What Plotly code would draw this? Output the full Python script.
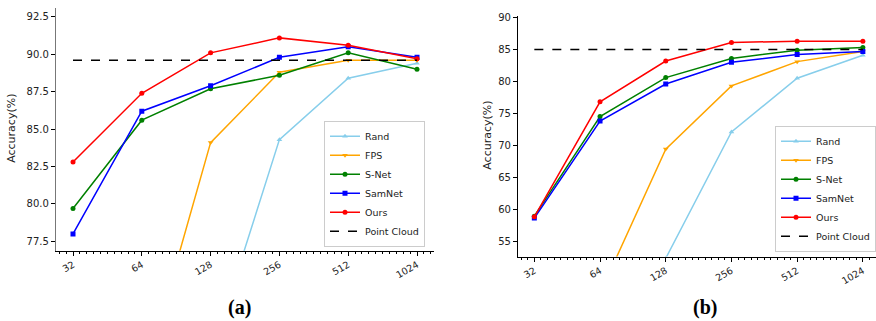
import math
import plotly.graph_objects as go

# Number of sampled points
SIZES = [32, 64, 128, 256, 512, 1024]
SIZE_LABELS = ["32", "64", "128", "256", "512", "1024"]

# (a) classification accuracy (%)
A_RAND = [None, None, 69.8, 84.3, 88.4, 89.4]
A_FPS = [None, 67.9, 84.1, 88.8, 89.6, 89.6]
A_SNET = [79.7, 85.6, 87.7, 88.6, 90.1, 89.0]
A_SAMNET = [78.0, 86.2, 87.9, 89.8, 90.5, 89.8]
A_OURS = [82.8, 87.4, 90.1, 91.1, 90.6, 89.7]
A_POINT_CLOUD = 89.6

# (b) classification accuracy (%)
B_RAND = [None, None, 52.3, 72.1, 80.5, 84.1]
B_FPS = [None, 46.8, 69.4, 79.3, 83.1, 84.7]
B_SNET = [58.9, 74.5, 80.6, 83.6, 84.9, 85.3]
B_SAMNET = [58.6, 73.8, 79.6, 83.0, 84.2, 84.7]
B_OURS = [58.8, 76.8, 83.2, 86.1, 86.3, 86.3]
B_POINT_CLOUD = 85.0

A_YTICKS = [77.5, 80.0, 82.5, 85.0, 87.5, 90.0, 92.5]
B_YTICKS = [55, 60, 65, 70, 75, 80, 85, 90]

W, H = 876, 321

SERIES_STYLE = [
    ("Rand", "#87CEEB", "triangle-up", 5),
    ("FPS", "#FFA500", "triangle-down", 5),
    ("S-Net", "#008000", "circle", 5),
    ("SamNet", "#0000FF", "square", 5),
    ("Ours", "#FF0000", "circle", 5),
]


def lg2(v):
    return math.log10(2 ** v)


def px_x(p):
    return p / W


def px_y(p):
    return 1 - p / H


fig = go.Figure()


def add_panel(series, pc, xa, ya, legend):
    for (name, color, symbol, size), vals in zip(SERIES_STYLE, series):
        fig.add_trace(go.Scatter(
            x=SIZES, y=vals, name=name, mode="lines+markers",
            line=dict(color=color, width=1.5),
            marker=dict(color=color, symbol=symbol, size=size),
            xaxis=xa, yaxis=ya, legend=legend, connectgaps=False,
        ))
    fig.add_trace(go.Scatter(
        x=[SIZES[0], SIZES[-1]], y=[pc, pc], name="Point Cloud", mode="lines",
        line=dict(color="black", width=1.5, dash="dash"),
        xaxis=xa, yaxis=ya, legend=legend,
    ))


add_panel([A_RAND, A_FPS, A_SNET, A_SAMNET, A_OURS], A_POINT_CLOUD, "x", "y", "legend")
add_panel([B_RAND, B_FPS, B_SNET, B_SAMNET, B_OURS], B_POINT_CLOUD, "x2", "y2", "legend2")

# evenly spaced minor ticks (ten per octave) along the log2 size axis
minor_vals = [2 ** (4.8 + k / 10) for k in range(0, 56)]

tick_font = dict(family="DejaVu Sans", size=10, color="#222")

common_x = dict(
    type="log", tickmode="array", tickvals=SIZES, ticktext=SIZE_LABELS,
    tickangle=-30, ticks="outside", ticklen=4, tickcolor="black",
    showgrid=False, zeroline=False, showline=True, linecolor="black", linewidth=1,
    tickfont=dict(family="DejaVu Sans", size=9.5, color="#222"),
    minor=dict(tickmode="array", tickvals=minor_vals, ticks="outside",
               ticklen=2, tickcolor="black", showgrid=False),
)
common_y = dict(
    ticks="outside", ticklen=4, tickcolor="black", showgrid=False, zeroline=False,
    showline=True, linewidth=1, tickfont=tick_font,
)

label_font = dict(family="DejaVu Sans", size=11, color="#222")
caption_font = dict(family="Liberation Serif", size=20, color="black")

fig.update_layout(
    width=W, height=H,
    margin=dict(l=0, r=0, t=0, b=0),
    paper_bgcolor="white", plot_bgcolor="white",
    font=dict(family="DejaVu Sans", color="#222"),
    xaxis=dict(domain=[px_x(55.8), px_x(434.2)], range=[lg2(4.75), lg2(10.25)],
               anchor="y", **common_x),
    yaxis=dict(domain=[px_y(250), px_y(5)], range=[76.88, 93.1], anchor="x",
               tickvals=A_YTICKS, ticktext=[f"{v:.1f}" for v in A_YTICKS],
               linecolor="#777", **common_y),
    xaxis2=dict(domain=[px_x(517.9), 1.0], range=[lg2(4.75), lg2(10.2)],
                anchor="y2", **common_x),
    yaxis2=dict(domain=[px_y(256), px_y(12.7)], range=[52.57, 90.31], anchor="x2",
                tickvals=B_YTICKS, ticktext=[str(v) for v in B_YTICKS],
                linecolor="black", **common_y),
    legend=dict(x=px_x(425), y=px_y(246), xanchor="right", yanchor="bottom",
                bgcolor="white", bordercolor="#ccc", borderwidth=1,
                font=dict(family="DejaVu Sans", size=9.5, color="#222"),
                tracegroupgap=0, itemwidth=30),
    legend2=dict(x=1.0, y=px_y(251), xanchor="right", yanchor="bottom",
                 bgcolor="white", bordercolor="#ccc", borderwidth=1,
                 font=dict(family="DejaVu Sans", size=9.5, color="#222"),
                 tracegroupgap=0, itemwidth=30),
    annotations=[
        dict(text="Accuracy(%)", x=px_x(12), y=px_y(127), xref="paper", yref="paper",
             xanchor="center", yanchor="middle", textangle=-90, showarrow=False,
             font=label_font),
        dict(text="Accuracy(%)", x=px_x(488), y=px_y(134), xref="paper", yref="paper",
             xanchor="center", yanchor="middle", textangle=-90, showarrow=False,
             font=label_font),
        dict(text="<b>(a)</b>", x=px_x(239.5), y=px_y(307), xref="paper", yref="paper",
             xanchor="center", yanchor="middle", showarrow=False, font=caption_font),
        dict(text="<b>(b)</b>", x=px_x(705), y=px_y(307), xref="paper", yref="paper",
             xanchor="center", yanchor="middle", showarrow=False, font=caption_font),
    ],
)

fig.write_html("out.html")
